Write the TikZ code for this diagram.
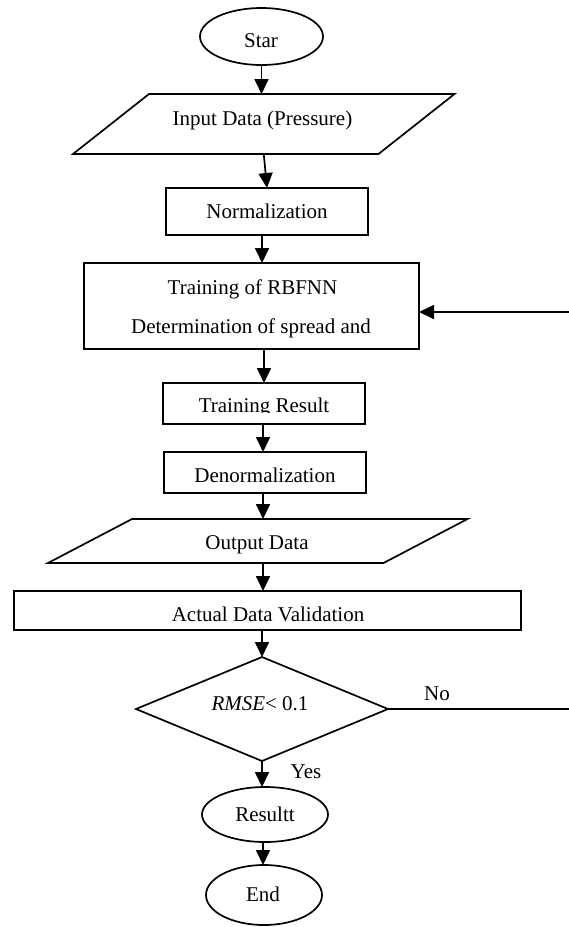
\documentclass[tikz,border=0pt]{standalone}
\usepackage{fontspec}
\setmainfont{Liberation Serif}
\usetikzlibrary{shapes.geometric,arrows.meta}
\begin{document}
\begin{tikzpicture}[x=1pt,y=-1pt,
  line width=1.7pt,
  every node/.style={inner sep=0pt,outer sep=0pt},
  txt/.style={anchor=base,font=\fontsize{21}{25}\selectfont},
  term/.style={draw,ellipse},
  proc/.style={draw,rectangle},
  io/.style={rectangle},
  dec/.style={draw,diamond},
  arr/.style={-{Triangle[length=15pt,width=14pt]}},
]
\useasboundingbox (0,0) rectangle (569,927);
\coordinate (axis) at (263,0);
\coordinate (noend) at (569,712);
\coordinate (fbin) at (569,312);

% shapes
\node[term,minimum width=123pt,minimum height=57pt] (star) at (261.5,36.5) {};
\node[io,minimum width=305.5pt,minimum height=60pt] (input) at (263.75,124) {};
\draw ([xshift=38pt]input.north west) -- ([xshift=38pt]input.north east)
   -- ([xshift=-38pt]input.south east) -- ([xshift=-38pt]input.south west) -- cycle;
\node[proc,minimum width=202pt,minimum height=47pt] (norm) at (267,211.5) {};
\node[proc,minimum width=335pt,minimum height=86pt] (train) at (251.5,306) {};
\node[proc,minimum width=202pt,minimum height=41pt] (tres) at (264,403.5) {};
\node[proc,minimum width=202pt,minimum height=41pt] (denorm) at (265,472.5) {};
\node[io,minimum width=335.5pt,minimum height=44pt] (output) at (257.75,541) {};
\draw ([xshift=42pt]output.north west) -- ([xshift=42pt]output.north east)
   -- ([xshift=-42pt]output.south east) -- ([xshift=-42pt]output.south west) -- cycle;
\node[proc,minimum width=507pt,minimum height=39pt] (actual) at (267.5,610.5) {};
\node[dec,minimum width=252pt,minimum height=104pt] (dec) at (262,709) {};
\node[term,minimum width=126pt,minimum height=55pt] (res) at (265,814.5) {};
\node[term,minimum width=116pt,minimum height=60pt] (end) at (264,895) {};

% texts
\node[txt] (startxt) at (261,47) {Star};
\node[txt] (inputtxt) at (262.5,125) {Input Data (Pressure)};
\node[txt] (normtxt) at (267,218.5) {Normalization};
\node[txt] (traintxta) at (252.5,294) {Training of RBFNN};
\node[txt] (traintxtb) at (251,333) {Determination of spread and};
\begin{scope}
  \clip (170,385) rectangle (360,412.5);
  \node[txt] (trestxt) at (264,412) {Training Result};
\end{scope}
\node[txt] (denormtxt) at (265,482) {Denormalization};
\node[txt] (outputtxt) at (257,549) {Output Data};
\begin{scope}
  \clip (20,594) rectangle (515,621.5);
  \node[txt] (acttxt) at (268,621.7) {Actual Data Validation};
\end{scope}
\node[txt] (dectxt) at (260,710) {\textit{RMSE}< 0.1};
\node[txt] (restxt) at (265,821) {Resultt};
\node[txt] (endtxt) at (263,901) {End};
\node[txt] (yes) at (306,778) {Yes};
\node[txt] (no) at (437,700) {No};

% connectors
\draw[arr] (star.south) -- (star.south |- input.north);
\draw[arr] (input.south) -- (norm.north);
\draw[arr] ([xshift=-5pt]norm.south) -- ([xshift=10.5pt]train.north);
\draw[arr] (train.south -| tres.north) -- (tres.north);
\draw[arr] (tres.south -| axis) -- (denorm.north -| axis);
\draw[arr] (denorm.south -| axis) -- (output.north -| axis);
\draw[arr] (output.south -| axis) -- (actual.north -| axis);
\draw[arr] (actual.south -| dec.north) -- (dec.north);
\draw[arr] (dec.south) -- (dec.south |- res.north);
\draw[arr] (res.south -| axis) -- (end.north -| axis);
\draw (dec.east) -- (dec.east -| noend);
\draw[arr] (fbin) -- (train.east |- fbin);
\end{tikzpicture}
\end{document}
